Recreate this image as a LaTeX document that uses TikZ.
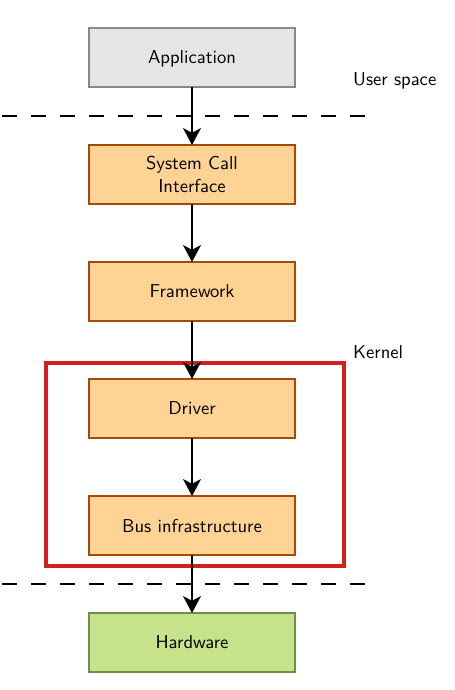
\documentclass[tikz,border=0pt]{standalone}
\usetikzlibrary{positioning, calc, arrows.meta}
\usepackage{xcolor}

\definecolor{usergray}{HTML}{E5E5E5}
\definecolor{userline}{HTML}{888888}
\definecolor{kernfill}{HTML}{FFD393}
\definecolor{kernline}{HTML}{A64B05}
\definecolor{hwfill}{HTML}{C6E38B}
\definecolor{hwline}{HTML}{6C8E4F}
\definecolor{kernred}{HTML}{D2201E}

\begin{document}
\begin{tikzpicture}[font=\sffamily\fontsize{10.6}{12.8}\selectfont, node distance=1.16cm and 0cm,
    block/.style={rectangle, minimum width=4.12cm, minimum height=1.18cm,
        line width=1.6pt, align=center, inner sep=2pt, outer sep=0pt, text depth=0pt},
    userbox/.style={block, fill=usergray, draw=userline},
    kernbox/.style={block, fill=kernfill, draw=kernline},
    hwbox/.style={block, fill=hwfill, draw=hwline},
    flow/.style={-{Stealth[length=9.5pt, width=10pt, inset=2.5pt]}, line width=1.7pt},
    border/.style={dashed, dash pattern=on 8.5pt off 8pt, line width=1.6pt}]
            % fix the frame of the page
            \useasboundingbox (0,0) rectangle (9.1,-13.8);

            % the stack of layers
            \node[userbox] (app) at (3.84,-1.15) {Application};
            \node[kernbox, below=of app] (sci) {System Call\\Interface};
            \node[kernbox, below=of sci] (fw) {Framework};
            \node[kernbox, below=of fw] (drv) {Driver};
            \node[kernbox, below=of drv] (bus) {Bus infrastructure};
            \node[hwbox, below=of bus] (hw) {Hardware};

            % the red frame round driver and bus
            \draw[kernred, line width=2.8pt]
                ($(drv.north west)+(-0.86,0.32)$) rectangle ($(bus.south east)+(0.98,-0.22)$);

            % the borders between the spaces
            \coordinate (usertop) at ($(app.south)!0.5!(sci.north)$);
            \coordinate (hwtop) at ($(bus.south)!0.5!(hw.north)$);
            \draw[border] (0.04,0 |- usertop) -- (7.4,0 |- usertop);
            \draw[border] (0.04,0 |- hwtop) -- (7.4,0 |- hwtop);

            % the calls going down
            \draw[flow] (app) -- (sci);
            \draw[flow] (sci) -- (fw);
            \draw[flow] (fw) -- (drv);
            \draw[flow] (drv) -- (bus);
            \draw[flow] (bus) -- (hw);

            % names of the spaces
            \node[anchor=west] (userlbl) at (6.94,-1.62) {User space};
            \node[anchor=west] (kernlbl) at (6.94,-7.04) {Kernel};
        \end{tikzpicture}
\end{document}
